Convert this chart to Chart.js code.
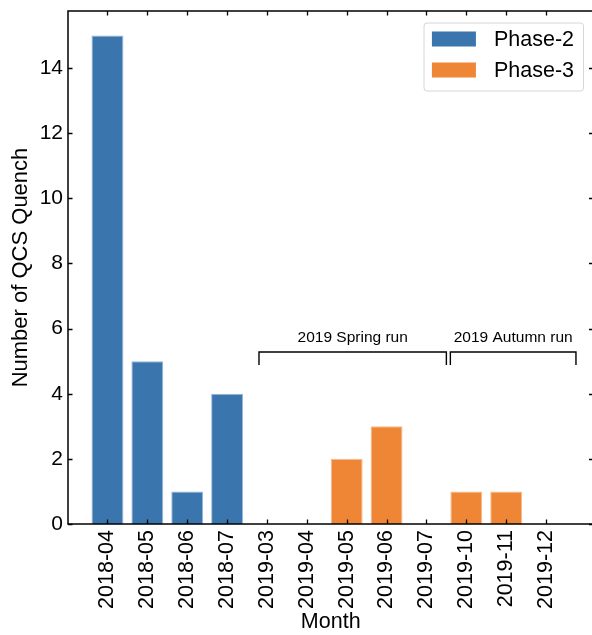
<!DOCTYPE html>
<html>
<head>
<meta charset="utf-8">
<script src="https://cdn.jsdelivr.net/npm/chart.js@4.4.1/dist/chart.umd.min.js"></script>
<style>
  html, body { margin: 0; padding: 0; background: #fff; overflow: hidden; }
  canvas { display: block; }
</style>
</head>
<body>
<canvas id="chart" width="600" height="635"></canvas>
<script>
// Monthly QCS quench counts, split by commissioning phase
const months = ['2018-04', '2018-05', '2018-06', '2018-07', '2019-03', '2019-04',
                '2019-05', '2019-06', '2019-07', '2019-10', '2019-11', '2019-12'];
const phase2Counts = [15, 5, 1, 4, null, null, null, null, null, null, null, null];
const phase3Counts = [null, null, null, null, 0, 0, 2, 3, 0, 1, 1, 0];
const yTicks = [0, 2, 4, 6, 8, 10, 12, 14];

// Run periods marked with brackets above the bars (x in month index units, y in counts)
const runs = [
  { label: '2019 Spring run', from: 3.8, to: 8.5 },
  { label: '2019 Autumn run', from: 8.6, to: 11.75 }
];
const bracketTop = 5.28;
const bracketFoot = 4.88;
const runLabelY = 5.72;

const FONT = "'Liberation Sans', Arial, Helvetica, sans-serif";
const BLUE = '#3a75ae';
const ORANGE = '#ef8636';

const toPoints = arr => arr.map((v, i) => ({ x: i, y: v }));

// Frame with inward ticks on all four sides, run brackets and the legend box
const decorations = {
  id: 'decorations',
  afterDatasetsDraw(chart) {
    const { ctx, chartArea: a, scales: { x, y } } = chart;
    ctx.save();
    ctx.strokeStyle = '#000';
    ctx.lineWidth = 1.5;
    ctx.strokeRect(a.left, a.top, a.right - a.left, a.bottom - a.top);
    const tl = 4.5;
    ctx.lineWidth = 1.3;
    ctx.beginPath();
    x.ticks.forEach(t => {
      const px = Math.round(x.getPixelForValue(t.value)) + 0.5;
      ctx.moveTo(px, a.bottom); ctx.lineTo(px, a.bottom - tl);
      ctx.moveTo(px, a.top); ctx.lineTo(px, a.top + tl);
    });
    y.ticks.forEach(t => {
      const py = Math.round(y.getPixelForValue(t.value)) + 0.5;
      ctx.moveTo(a.left, py); ctx.lineTo(a.left + tl, py);
      ctx.moveTo(a.right, py); ctx.lineTo(a.right - tl, py);
    });
    ctx.stroke();

    // run brackets
    ctx.lineWidth = 1.4;
    ctx.font = '15.5px ' + FONT;
    ctx.fillStyle = '#000';
    ctx.textAlign = 'center';
    ctx.textBaseline = 'middle';
    runs.forEach(r => {
      const x0 = x.getPixelForValue(r.from), x1 = x.getPixelForValue(r.to);
      const yt = y.getPixelForValue(bracketTop), yf = y.getPixelForValue(bracketFoot);
      ctx.beginPath();
      ctx.moveTo(x0, yf); ctx.lineTo(x0, yt); ctx.lineTo(x1, yt); ctx.lineTo(x1, yf);
      ctx.stroke();
      ctx.fillText(r.label, (x0 + x1) / 2, y.getPixelForValue(runLabelY));
    });

    // legend (upper right)
    ctx.font = '21.5px ' + FONT;
    const items = chart.data.datasets.map(d => ({ label: d.label, color: d.backgroundColor }));
    const pad = 8.4, handleW = 44, handleH = 15, gap = 18, rowH = 31;
    const textW = Math.max(...items.map(it => ctx.measureText(it.label).width));
    const boxW = pad + handleW + gap + textW + 9;
    const boxH = 16.5 + rowH * (items.length - 1) + 20.5;
    const bx = a.right - 10.5 - boxW, by = a.top + 11.5;
    ctx.beginPath();
    ctx.roundRect(bx + 0.5, by + 0.5, boxW, boxH, 3);
    ctx.fillStyle = 'rgba(255,255,255,0.8)';
    ctx.fill();
    ctx.strokeStyle = '#d6d6d6';
    ctx.lineWidth = 1;
    ctx.stroke();
    ctx.textAlign = 'left';
    ctx.textBaseline = 'middle';
    items.forEach((it, i) => {
      const cy = by + 16.5 + i * rowH;
      ctx.fillStyle = it.color;
      ctx.fillRect(bx + pad, cy - handleH / 2, handleW, handleH);
      ctx.fillStyle = '#000';
      ctx.fillText(it.label, bx + pad + handleW + gap, cy + 1);
    });
    ctx.restore();
  }
};

new Chart(document.getElementById('chart'), {
  type: 'bar',
  data: {
    datasets: [
      { label: 'Phase-2', data: toPoints(phase2Counts), backgroundColor: BLUE,
        borderColor: 'rgba(140,175,212,0.9)', borderWidth: 1 },
      { label: 'Phase-3', data: toPoints(phase3Counts), backgroundColor: ORANGE,
        borderColor: 'rgba(245,180,130,0.9)', borderWidth: 1 }
    ]
  },
  options: {
    responsive: false,
    animation: false,
    devicePixelRatio: 1,
    grouped: false,
    barPercentage: 0.8,
    categoryPercentage: 1.0,
    layout: { padding: { top: 11, right: 6.5, left: 0, bottom: 0 } },
    plugins: { legend: { display: false }, tooltip: { enabled: false } },
    scales: {
      x: {
        type: 'linear',
        offset: false,
        min: -0.99,
        max: 12.19,
        afterBuildTicks: s => { s.ticks = months.map((_, i) => ({ value: i })); },
        afterFit: s => { s.height = 111; s.paddingLeft = 0; s.paddingRight = 0; },
        grid: { display: false, drawTicks: false },
        border: { display: false },
        ticks: {
          autoSkip: false, minRotation: 90, maxRotation: 90, padding: 6,
          color: '#000', font: { family: FONT, size: 21.5 },
          callback: v => months[v]
        },
        title: {
          display: true, text: 'Month', color: '#000',
          font: { family: FONT, size: 21.5, lineHeight: 1.2 },
          padding: { top: -6.5, bottom: 0 }
        }
      },
      y: {
        min: 0,
        max: 15.75,
        afterBuildTicks: s => { s.ticks = yTicks.map(v => ({ value: v })); },
        afterFit: s => { s.width = 68; s.paddingTop = 0; s.paddingBottom = 0; },
        grid: { display: false, drawTicks: false },
        border: { display: false },
        ticks: { padding: 5, color: '#000', font: { family: FONT, size: 21 } },
        title: {
          display: true, text: 'Number of QCS Quench', color: '#000',
          font: { family: FONT, size: 22, lineHeight: 1.2 },
          padding: { top: 8, bottom: 0 }
        }
      }
    }
  },
  plugins: [decorations]
});
</script>
</body>
</html>
